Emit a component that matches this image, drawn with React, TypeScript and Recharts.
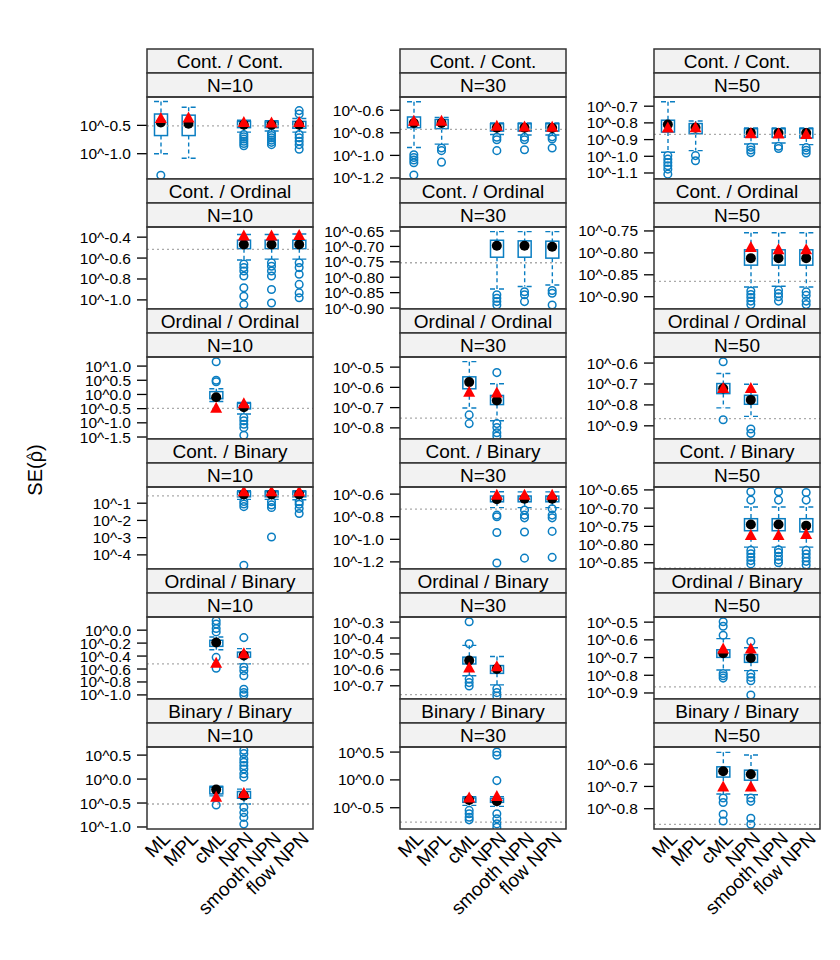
import React from "react";
import { ComposedChart, Bar, Scatter, XAxis, YAxis, ReferenceLine } from "recharts";

// Methods on the x axis, row labels (strip 1) and sample sizes (strip 2)
const METHODS = ["ML", "MPL", "cML", "NPN", "smooth NPN", "flow NPN"];
const PAIRS = [
  "Cont. / Cont.",
  "Cont. / Ordinal",
  "Ordinal / Ordinal",
  "Cont. / Binary",
  "Ordinal / Binary",
  "Binary / Binary",
];
const SAMPLE_SIZES = [10, 30, 50];

// Values are log10(SE). Box = [lower whisker, Q1, median, Q3, upper whisker], null = not fitted
type Box = number[] | null;

const BOX_CC_10: Box[] = [
  [-1.0, -0.68, -0.45, -0.3, -0.08],
  [-1.08, -0.68, -0.47, -0.32, -0.18],
  null,
  [-0.62, -0.54, -0.49, -0.43, -0.41],
  [-0.6, -0.54, -0.49, -0.44, -0.42],
  [-0.62, -0.55, -0.49, -0.43, -0.38],
];
const MEAN_CC_10 = [-0.38, -0.37, null, -0.45, -0.46, -0.45];
const OUT_CC_10 = [
  [-1.38], [], [],
  [-0.66, -0.7, -0.74, -0.78, -0.82, -0.86],
  [-0.64, -0.68, -0.72, -0.76, -0.8, -0.84],
  [-0.24, -0.3, -0.66, -0.72, -0.78, -0.84, -0.92],
];

const BOX_CC_30: Box[] = [
  [-0.93, -0.755, -0.713, -0.66, -0.525],
  [-0.9, -0.763, -0.713, -0.683, -0.665],
  null,
  [-0.815, -0.785, -0.755, -0.72, -0.712],
  [-0.82, -0.785, -0.755, -0.72, -0.712],
  [-0.82, -0.785, -0.757, -0.72, -0.712],
];
const MEAN_CC_30 = [-0.698, -0.698, null, -0.743, -0.748, -0.75];
const OUT_CC_30 = [
  [-0.994, -1.018, -1.041, -1.065, -1.173],
  [-0.934, -0.958, -1.06], [],
  [-0.839, -0.862, -0.958],
  [-0.839, -0.862, -0.95],
  [-0.836, -0.855, -0.934],
];

const BOX_CC_50: Box[] = [
  [-0.976, -0.855, -0.81, -0.784, -0.673],
  [-0.966, -0.865, -0.829, -0.804, -0.789],
  null,
  [-0.926, -0.886, -0.859, -0.835, -0.83],
  [-0.92, -0.886, -0.861, -0.835, -0.83],
  [-0.93, -0.89, -0.861, -0.835, -0.83],
];
const MEAN_CC_50 = [-0.831, -0.829, null, -0.865, -0.867, -0.87];
const OUT_CC_50 = [
  [-0.996, -1.017, -1.037, -1.057, -1.077, -1.107],
  [-0.996, -1.027], [],
  [-0.946, -0.962, -0.978],
  [-0.94, -0.953],
  [-0.948, -0.964, -0.98],
];

const BOX_CO_10: Box[] = [
  null, null, null,
  [-0.619, -0.51, -0.471, -0.429, -0.374],
  [-0.61, -0.51, -0.471, -0.429, -0.374],
  [-0.61, -0.51, -0.47, -0.43, -0.37],
];
const MEAN_CO_10 = [null, null, null, -0.39, -0.39, -0.385];
const OUT_CO_10 = [
  [], [], [],
  [-0.658, -0.691, -0.723, -0.771, -0.884, -0.965, -1.045],
  [-0.645, -0.678, -0.723, -0.771, -0.9, -1.03],
  [-0.645, -0.691, -0.755, -0.852, -0.933, -0.98],
];

const BOX_CO_30: Box[] = [
  null, null, null,
  [-0.838, -0.735, -0.698, -0.68, -0.652],
  [-0.83, -0.735, -0.698, -0.682, -0.652],
  [-0.825, -0.738, -0.701, -0.683, -0.652],
];
// means lie above the panel's range here
const MEAN_CO_30 = [null, null, null, null, null, null];
const OUT_CO_30 = [
  [], [], [],
  [-0.857, -0.868, -0.879, -0.89],
  [-0.847, -0.857, -0.879],
  [-0.843, -0.852, -0.89],
];

const BOX_CO_50: Box[] = [
  null, null, null,
  [-0.878, -0.828, -0.812, -0.793, -0.754],
  [-0.876, -0.828, -0.812, -0.793, -0.754],
  [-0.878, -0.828, -0.812, -0.793, -0.754],
];
const MEAN_CO_50 = [null, null, null, -0.788, -0.793, -0.793];
const OUT_CO_50 = [
  [], [], [],
  [-0.887, -0.895, -0.902, -0.91, -0.918],
  [-0.885, -0.893, -0.9, -0.91],
  [-0.889, -0.897, -0.91, -0.918],
];

const BOX_OO_10: Box[] = [
  null, null,
  [-0.25, -0.15, -0.1, 0.1, 0.2],
  [-0.69, -0.51, -0.45, -0.31, -0.28],
  null, null,
];
const MEAN_OO_10 = [null, null, -0.49, -0.33, null, null];
const OUT_OO_10 = [[], [], [1.15, 0.5, 0.45], [-0.81, -0.93, -1.05, -1.17, -1.44], [], []];

const BOX_OO_30: Box[] = [
  null, null,
  [-0.702, -0.607, -0.574, -0.548, -0.473],
  [-0.765, -0.685, -0.665, -0.64, -0.582],
  null, null,
];
const MEAN_OO_30 = [null, null, -0.624, -0.628, null, null];
const OUT_OO_30 = [[], [], [-0.736, -0.779], [-0.527, -0.779, -0.798, -0.824, -0.84], [], []];

const BOX_OO_50: Box[] = [
  null, null,
  [-0.814, -0.746, -0.722, -0.698, -0.65],
  [-0.855, -0.797, -0.776, -0.754, -0.701],
  null, null,
];
const MEAN_OO_50 = [null, null, -0.722, -0.722, null, null];
const OUT_OO_50 = [[], [], [-0.594, -0.871], [-0.915, -0.936], [], []];

const BOX_CB_10: Box[] = [
  null, null, null,
  [-0.78, -0.63, -0.49, -0.34, -0.28],
  [-0.78, -0.63, -0.49, -0.34, -0.28],
  [-0.8, -0.63, -0.49, -0.34, -0.28],
];
const MEAN_CB_10 = [null, null, null, -0.34, -0.34, -0.34];
const OUT_CB_10 = [
  [], [], [],
  [-0.9, -1.05, -1.2, -4.6],
  [-0.92, -1.1, -1.25, -2.96],
  [-0.92, -1.06, -1.31, -1.6],
];

const BOX_CB_30: Box[] = [
  null, null, null,
  [-0.72, -0.668, -0.645, -0.617, -0.579],
  [-0.72, -0.668, -0.64, -0.617, -0.58],
  [-0.72, -0.668, -0.64, -0.617, -0.58],
];
const MEAN_CB_30 = [null, null, null, -0.609, -0.61, -0.61];
const OUT_CB_30 = [
  [], [], [],
  [-0.786, -0.8, -0.94, -1.21],
  [-0.74, -0.786, -0.81, -0.935, -1.167],
  [-0.73, -0.786, -0.81, -0.93, -1.16],
];

const BOX_CB_50: Box[] = [
  null, null, null,
  [-0.807, -0.762, -0.745, -0.729, -0.697],
  [-0.807, -0.762, -0.745, -0.729, -0.697],
  [-0.807, -0.765, -0.748, -0.729, -0.697],
];
const MEAN_CB_50 = [null, null, null, -0.775, -0.775, -0.772];
const OUT_CB_50 = [
  [], [], [],
  [-0.655, -0.678, -0.816, -0.825, -0.835, -0.844, -0.853],
  [-0.655, -0.678, -0.814, -0.822, -0.832, -0.842, -0.85],
  [-0.657, -0.678, -0.816, -0.826, -0.836, -0.846, -0.856],
];

const BOX_OB_10: Box[] = [
  null, null,
  [-0.302, -0.25, -0.192, -0.156, -0.105],
  [-0.521, -0.417, -0.39, -0.339, -0.286],
  null, null,
];
const MEAN_OB_10 = [null, null, -0.511, -0.365, null, null];
const OUT_OB_10 = [
  [], [],
  [0.145, 0.094, 0.026, -0.027, -0.42, -0.587],
  [-0.115, -0.573, -0.625, -0.703, -0.912, -0.964, -1.0],
  [], [],
];

const BOX_OB_30: Box[] = [
  null, null,
  [-0.637, -0.563, -0.541, -0.52, -0.446],
  [-0.694, -0.622, -0.594, -0.573, -0.516],
  null, null,
];
const MEAN_OB_30 = [null, null, -0.588, -0.58, null, null];
const OUT_OB_30 = [[], [], [-0.298, -0.436, -0.658, -0.68, -0.701], [-0.718, -0.743, -0.764], [], []];

const BOX_OB_50: Box[] = [
  null, null,
  [-0.77, -0.699, -0.676, -0.656, -0.593],
  [-0.774, -0.727, -0.702, -0.683, -0.645],
  null, null,
];
const MEAN_OB_50 = [null, null, -0.651, -0.651, null, null];
const OUT_OB_50 = [
  [], [],
  [-0.498, -0.523, -0.574, -0.79, -0.803, -0.816],
  [-0.609, -0.793, -0.812, -0.831, -0.911],
  [], [],
];

const BOX_BB_10: Box[] = [
  null, null,
  [-0.35, -0.31, -0.22, -0.17, -0.15],
  [-0.52, -0.4, -0.35, -0.26, -0.21],
  null, null,
];
const MEAN_BB_10 = [null, null, -0.38, -0.3, null, null];
const OUT_BB_10 = [
  [], [], [-0.54],
  [0.6, 0.53, 0.42, 0.35, 0.28, 0.21, 0.11, 0.04, -0.59, -0.7, -0.8, -0.94],
  [], [],
];

const BOX_BB_30: Box[] = [
  null, null,
  [-0.457, -0.403, -0.36, -0.324, -0.3],
  [-0.475, -0.403, -0.385, -0.33, -0.3],
  null, null,
];
const MEAN_BB_30 = [null, null, -0.324, -0.3, null, null];
const OUT_BB_30 = [
  [], [],
  [-0.548, -0.609, -0.671, -0.718],
  [0.502, 0.442, -0.013, -0.609, -0.7, -0.79, -0.852],
  [], [],
];

const BOX_BB_50: Box[] = [
  null, null,
  [-0.734, -0.658, -0.632, -0.612, -0.547],
  [-0.737, -0.672, -0.645, -0.627, -0.559],
  null, null,
];
const MEAN_BB_50 = [null, null, -0.703, -0.703, null, null];
const OUT_BB_50 = [[], [], [-0.752, -0.772, -0.825, -0.855], [-0.752, -0.767, -0.843, -0.87], [], []];

// y tick values (log10 SE) per panel, row-major
const TICKS = [
  [-1.0, -0.5], [-1.2, -1.0, -0.8, -0.6], [-1.1, -1.0, -0.9, -0.8, -0.7],
  [-1.0, -0.8, -0.6, -0.4], [-0.9, -0.85, -0.8, -0.75, -0.7, -0.65], [-0.9, -0.85, -0.8, -0.75],
  [-1.5, -1.0, -0.5, 0, 0.5, 1.0], [-0.8, -0.7, -0.6, -0.5], [-0.9, -0.8, -0.7, -0.6],
  [-4, -3, -2, -1], [-1.2, -1.0, -0.8, -0.6], [-0.85, -0.8, -0.75, -0.7, -0.65],
  [-1.0, -0.8, -0.6, -0.4, -0.2, 0], [-0.7, -0.6, -0.5, -0.4, -0.3], [-0.9, -0.8, -0.7, -0.6, -0.5],
  [-1.0, -0.5, 0, 0.5], [-0.5, 0, 0.5], [-0.8, -0.7, -0.6],
];
const TICK_DIGITS = [1, 1, 1, 1, 2, 2, 1, 1, 1, 0, 1, 2, 1, 1, 1, 1, 1, 1];
const Y_LIMITS = [
  [-1.446, 0.0], [-1.209, -0.483], [-1.136, -0.645],
  [-1.087, -0.303], [-0.903, -0.637], [-0.928, -0.741],
  [-1.57, 1.32], [-0.855, -0.45], [-0.963, -0.571],
  [-4.82, -0.06], [-1.263, -0.537], [-0.867, -0.642],
  [-1.063, 0.203], [-0.783, -0.268], [-0.934, -0.471],
  [-1.042, 0.669], [-0.882, 0.591], [-0.891, -0.523],
];
// dotted reference (true SE) per panel
const TRUE_SE = [
  -0.51, -0.77, -0.869,
  -0.516, -0.753, -0.865,
  -0.49, -0.752, -0.866,
  -0.57, -0.733, -0.865,
  -0.52, -0.755, -0.866,
  -0.52, -0.76, -0.87,
];

const BOXES = [
  BOX_CC_10, BOX_CC_30, BOX_CC_50, BOX_CO_10, BOX_CO_30, BOX_CO_50,
  BOX_OO_10, BOX_OO_30, BOX_OO_50, BOX_CB_10, BOX_CB_30, BOX_CB_50,
  BOX_OB_10, BOX_OB_30, BOX_OB_50, BOX_BB_10, BOX_BB_30, BOX_BB_50,
];
const MEANS = [
  MEAN_CC_10, MEAN_CC_30, MEAN_CC_50, MEAN_CO_10, MEAN_CO_30, MEAN_CO_50,
  MEAN_OO_10, MEAN_OO_30, MEAN_OO_50, MEAN_CB_10, MEAN_CB_30, MEAN_CB_50,
  MEAN_OB_10, MEAN_OB_30, MEAN_OB_50, MEAN_BB_10, MEAN_BB_30, MEAN_BB_50,
];
const OUTLIERS = [
  OUT_CC_10, OUT_CC_30, OUT_CC_50, OUT_CO_10, OUT_CO_30, OUT_CO_50,
  OUT_OO_10, OUT_OO_30, OUT_OO_50, OUT_CB_10, OUT_CB_30, OUT_CB_50,
  OUT_OB_10, OUT_OB_30, OUT_OB_50, OUT_BB_10, OUT_BB_30, OUT_BB_50,
];

// layout
const COL_X = [147, 400, 654];
const ROW_Y = [49, 179, 309, 439, 569, 699];
const PLOT_W = 166;
const STRIP_H = 24;
const PLOT_H = 82;
const Y_AXIS_W = 90;
const X_AXIS_H = 110;
const PAD = 12; // room above/below the plot so edge tick labels are not clipped
const BLUE = "#0a7ec2";
const FONT = "'Liberation Sans', Arial, Helvetica, sans-serif";

const renderBox = (props: any) => {
  const { x, y, width, height, payload } = props;
  const s = payload && payload.stats;
  if (!s) return null;
  const [lo, q1, , q3, hi] = s;
  const cx = x + width / 2;
  const top = Math.min(y, y + height);
  const bot = Math.max(y, y + height);
  // map values inside the bar's [lo, hi] range onto its pixel span
  const py = (v: number) => bot - ((v - lo) / (hi - lo || 1)) * (bot - top);
  const half = 7;
  return (
    <g>
      <line x1={cx} x2={cx} y1={py(hi)} y2={py(q3)} stroke={BLUE} strokeWidth={1.4} strokeDasharray="4 3" />
      <line x1={cx} x2={cx} y1={py(q1)} y2={py(lo)} stroke={BLUE} strokeWidth={1.4} strokeDasharray="4 3" />
      <line x1={cx - half} x2={cx + half} y1={py(hi)} y2={py(hi)} stroke={BLUE} strokeWidth={1.4} strokeDasharray="5 4" />
      <line x1={cx - half} x2={cx + half} y1={py(lo)} y2={py(lo)} stroke={BLUE} strokeWidth={1.4} strokeDasharray="5 4" />
      <rect x={cx - 6.5} y={py(q3)} width={13} height={Math.max(py(q1) - py(q3), 1)} fill="none" stroke={BLUE} strokeWidth={1.5} />
    </g>
  );
};

const renderMedian = (props: any) => <circle cx={props.cx} cy={props.cy} r={5} fill="#000" />;

const renderMean = (props: any) => {
  const { cx, cy } = props;
  return <polygon points={`${cx},${cy - 6.5} ${cx - 6},${cy + 4.5} ${cx + 6},${cy + 4.5}`} fill="#ff0000" />;
};

const renderOutlier = (props: any) => (
  <circle cx={props.cx} cy={props.cy} r={3.8} fill="none" stroke={BLUE} strokeWidth={1.5} />
);

const MethodTick = (props: any) => {
  const { x, y, payload } = props;
  return (
    <text
      transform={`translate(${x + 6},${y - 2}) rotate(-45)`}
      textAnchor="end"
      dy="0.35em"
      fontSize={19}
      fill="#000"
    >
      {METHODS[payload.value]}
    </text>
  );
};

function Panel({ idx }: { idx: number }) {
  const row = Math.floor(idx / 3);
  const col = idx % 3;
  const last = row === PAIRS.length - 1;
  const boxes = BOXES[idx];
  const digits = TICK_DIGITS[idx];

  const barData = METHODS.map((_, i) => {
    const b = boxes[i];
    return { x: i, range: b ? [b[0], b[4]] : null, stats: b };
  });
  const medData = boxes.flatMap((b, i) => (b ? [{ x: i, y: b[2] }] : []));
  const meanData = MEANS[idx].flatMap((v, i) => (v == null ? [] : [{ x: i, y: v }]));
  const outData = OUTLIERS[idx].flatMap((arr, i) => arr.map((v) => ({ x: i, y: v })));

  return (
    <div style={{ position: "absolute", left: COL_X[col] - Y_AXIS_W, top: ROW_Y[row] + 2 * STRIP_H - PAD }}>
      <ComposedChart
        width={PLOT_W + Y_AXIS_W}
        height={PLOT_H + PAD + (last ? X_AXIS_H : PAD)}
        data={barData}
        margin={{ top: PAD, right: 0, bottom: last ? 0 : PAD, left: 0 }}
      >
        <XAxis
          type="number"
          dataKey="x"
          domain={[-0.5, 5.5]}
          ticks={[0, 1, 2, 3, 4, 5]}
          interval={0}
          allowDataOverflow
          hide={!last}
          height={X_AXIS_H}
          axisLine={false}
          tickLine={false}
          tick={<MethodTick />}
        />
        <YAxis
          type="number"
          dataKey="y"
          domain={Y_LIMITS[idx]}
          ticks={TICKS[idx]}
          interval={0}
          allowDataOverflow
          width={Y_AXIS_W}
          axisLine={false}
          tickSize={10}
          tickMargin={6}
          tickLine={{ stroke: "#000", strokeWidth: 1.3 }}
          tick={{ fill: "#000", fontSize: 15.5 }}
          tickFormatter={(v: number) => `10^${v.toFixed(digits)}`}
        />
        <ReferenceLine y={TRUE_SE[idx]} stroke="#aaaaaa" strokeWidth={1.3} strokeDasharray="2 3" />
        <Bar dataKey="range" barSize={14} shape={renderBox} isAnimationActive={false} />
        {outData.length > 0 && <Scatter data={outData} shape={renderOutlier} isAnimationActive={false} />}
        {medData.length > 0 && <Scatter data={medData} shape={renderMedian} isAnimationActive={false} />}
        {meanData.length > 0 && <Scatter data={meanData} shape={renderMean} isAnimationActive={false} />}
      </ComposedChart>
    </div>
  );
}

function Frames() {
  const items: React.ReactNode[] = [];
  PAIRS.forEach((pair, row) => {
    SAMPLE_SIZES.forEach((n, col) => {
      const x = COL_X[col];
      const y = ROW_Y[row];
      items.push(
        <g key={`${row}-${col}`}>
          <rect x={x} y={y} width={PLOT_W} height={STRIP_H} fill="#f2f2f2" stroke="#333" strokeWidth={1.5} />
          <text x={x + PLOT_W / 2} y={y + STRIP_H / 2} dy="0.36em" textAnchor="middle" fontSize={19}>
            {pair}
          </text>
          <rect x={x} y={y + STRIP_H} width={PLOT_W} height={STRIP_H} fill="#f2f2f2" stroke="#333" strokeWidth={1.5} />
          <text x={x + PLOT_W / 2} y={y + 1.5 * STRIP_H} dy="0.36em" textAnchor="middle" fontSize={19}>
            {`N=${n}`}
          </text>
          <rect x={x} y={y + 2 * STRIP_H} width={PLOT_W} height={PLOT_H} fill="none" stroke="#333" strokeWidth={1.5} />
        </g>
      );
    });
  });
  return (
    <svg width={840} height={960} style={{ position: "absolute", left: 0, top: 0, pointerEvents: "none" }}>
      {items}
      <g transform="translate(42,470) rotate(-90)">
        <text textAnchor="middle" fontSize={20}>
          SE(ρ)
        </text>
        {/* hat over rho */}
        <text x={13.5} y={-7} textAnchor="middle" fontSize={13}>
          ^
        </text>
      </g>
    </svg>
  );
}

export default function App() {
  return (
    <div style={{ position: "absolute", left: 0, top: 0, width: 840, height: 960, background: "#fff", fontFamily: FONT }}>
      {BOXES.map((_, i) => (
        <Panel key={i} idx={i} />
      ))}
      <Frames />
    </div>
  );
}
